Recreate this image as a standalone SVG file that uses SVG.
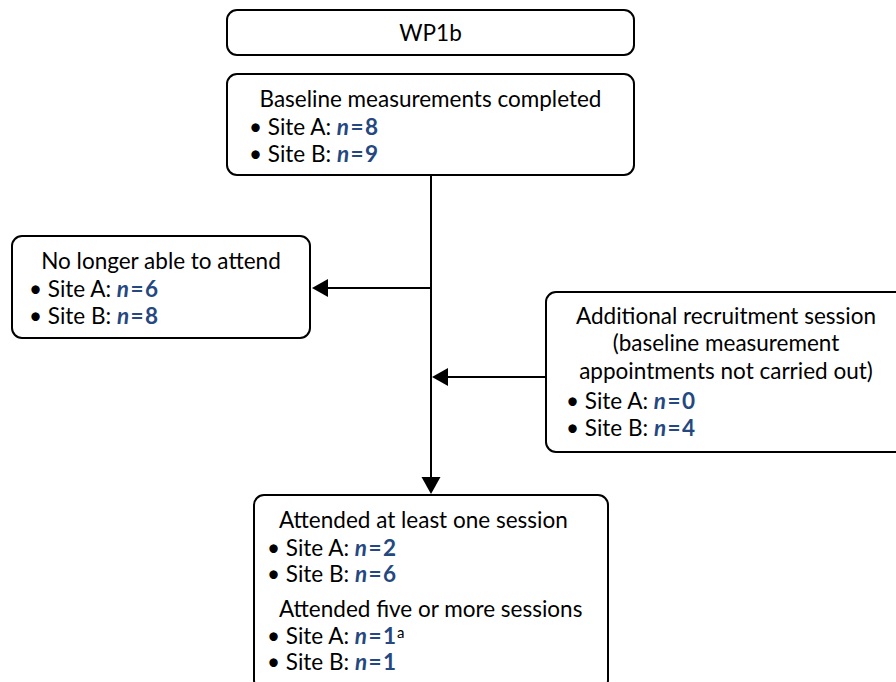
<svg xmlns="http://www.w3.org/2000/svg" width="896" height="682" viewBox="0 0 896 682">
<defs>
<style>
.box{fill:#fff;stroke:#000;stroke-width:2}
text{font-family:Lato,"Noto Sans","Liberation Sans",sans-serif;font-size:22.5px;fill:#000}
.n{fill:#24487f;font-weight:bold}
.i{font-style:italic}
.sup{font-size:15px}
.c{text-anchor:middle}
.ln{stroke:#000;stroke-width:2;fill:none}
</style>
</defs>
<rect width="896" height="682" fill="#fff"/>
<g id="connectors">
<line class="ln" x1="431" y1="175" x2="431" y2="482"/>
<path d="M421.5,477 L440.5,477 L431,494 z" fill="#000"/>
<line class="ln" x1="431" y1="288" x2="325" y2="288"/>
<path d="M328,279 L328,297 L312,288 z" fill="#000"/>
<line class="ln" x1="546" y1="377" x2="445" y2="377"/>
<path d="M448,368 L448,386 L432,377 z" fill="#000"/>
</g>
<g id="wp1b">
<rect class="box" x="227" y="10" width="407" height="45" rx="10"/>
<text class="c" x="430.5" y="41">WP1b</text>
</g>
<g id="baseline">
<rect class="box" x="227" y="74" width="407" height="101" rx="10"/>
<text class="c" x="430.5" y="107">Baseline measurements completed</text>
<text x="249" y="135">• Site A: <tspan class="n"><tspan class="i">n</tspan>&#8202;=&#8202;8</tspan></text>
<text x="249" y="162">• Site B: <tspan class="n"><tspan class="i">n</tspan>&#8202;=&#8202;9</tspan></text>
</g>
<g id="nolonger">
<rect class="box" x="12" y="236" width="298" height="102" rx="10"/>
<text class="c" x="161" y="269">No longer able to attend</text>
<text x="29" y="297">• Site A: <tspan class="n"><tspan class="i">n</tspan>&#8202;=&#8202;6</tspan></text>
<text x="29" y="324">• Site B: <tspan class="n"><tspan class="i">n</tspan>&#8202;=&#8202;8</tspan></text>
</g>
<g id="additional">
<rect class="box" x="546" y="292" width="362" height="160" rx="10"/>
<text class="c" x="726" y="324">Additional recruitment session</text>
<text class="c" x="726" y="351">(baseline measurement</text>
<text class="c" x="726" y="379">appointments not carried out)</text>
<text x="566" y="409">• Site A: <tspan class="n"><tspan class="i">n</tspan>&#8202;=&#8202;0</tspan></text>
<text x="566" y="436">• Site B: <tspan class="n"><tspan class="i">n</tspan>&#8202;=&#8202;4</tspan></text>
</g>
<g id="attended">
<rect class="box" x="254" y="495" width="354" height="195" rx="10"/>
<text x="279" y="528">Attended at least one session</text>
<text x="267" y="556">• Site A: <tspan class="n"><tspan class="i">n</tspan>&#8202;=&#8202;2</tspan></text>
<text x="267" y="582">• Site B: <tspan class="n"><tspan class="i">n</tspan>&#8202;=&#8202;6</tspan></text>
<text x="279" y="617">Attended five or more sessions</text>
<text x="267" y="644">• Site A: <tspan class="n"><tspan class="i">n</tspan>&#8202;=&#8202;1</tspan><tspan class="sup" dx="1" dy="-6">a</tspan></text>
<text x="267" y="670">• Site B: <tspan class="n"><tspan class="i">n</tspan>&#8202;=&#8202;1</tspan></text>
</g>
</svg>
